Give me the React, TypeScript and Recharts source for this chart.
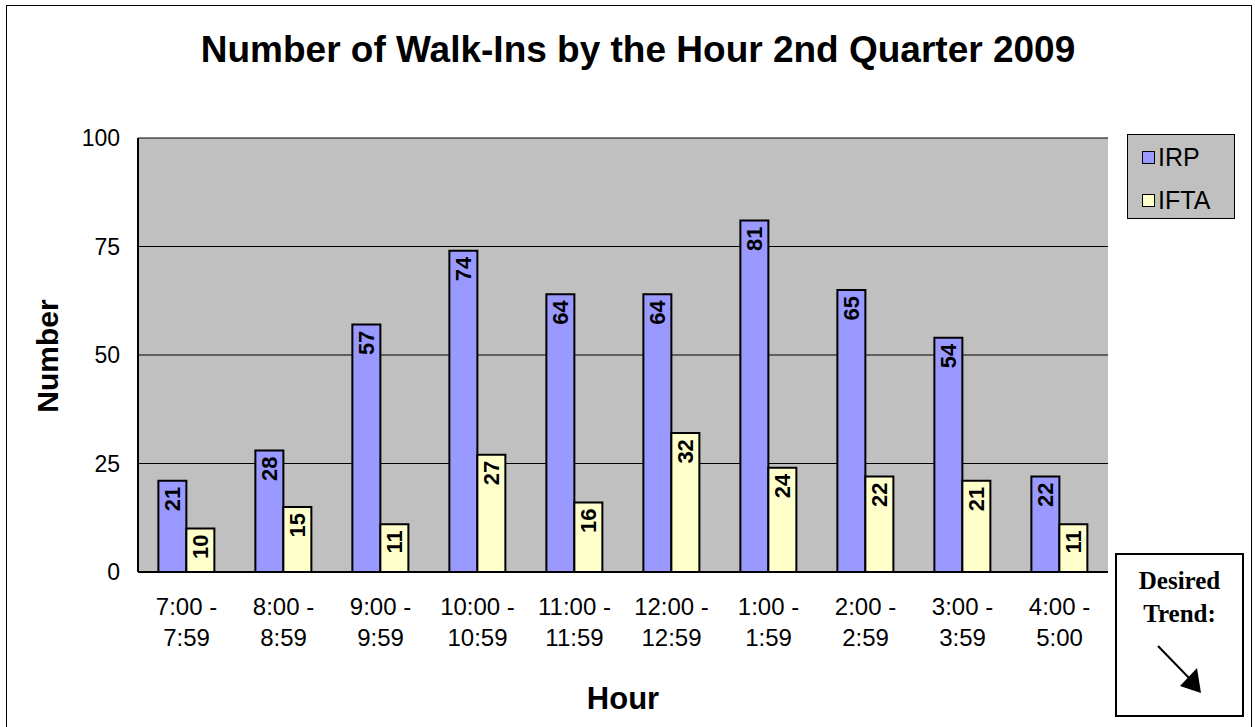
import { BarChart, Bar, XAxis, YAxis, CartesianGrid, LabelList } from 'recharts'

const hours = ['7:00 -|7:59', '8:00 -|8:59', '9:00 -|9:59', '10:00 -|10:59', '11:00 -|11:59', '12:00 -|12:59', '1:00 -|1:59', '2:00 -|2:59', '3:00 -|3:59', '4:00 -|5:00']
const irp = [21, 28, 57, 74, 64, 64, 81, 65, 54, 22]
const ifta = [10, 15, 11, 27, 16, 32, 24, 22, 21, 11]
const yTicks = [0, 25, 50, 75, 100]

const data = hours.map((h, i) => ({ hour: h, IRP: irp[i], IFTA: ifta[i] }))

const font = 'Arial, "Liberation Sans", sans-serif'

function HourTick(props: any) {
  const { x, y, payload } = props
  const lines = String(payload.value).split('|')
  return (
    <text x={x} y={y} textAnchor="middle" fontFamily={font} fontSize={24} fill="#000">
      {lines.map((l, i) => (
        <tspan key={i} x={x} dy={i === 0 ? 35 : 31}>{l}</tspan>
      ))}
    </text>
  )
}

function VLabel(props: any) {
  const { x, y, width, value } = props
  const cx = x + width / 2
  const ty = y + 6
  return (
    <text
      x={cx}
      y={ty}
      transform={`rotate(-90 ${cx} ${ty})`}
      textAnchor="end"
      dominantBaseline="central"
      fontFamily={font}
      fontWeight="bold"
      fontSize={22}
      fill="#000"
    >
      {value}
    </text>
  )
}

const legendItems = [
  { name: 'IRP', color: '#9999FF' },
  { name: 'IFTA', color: '#FFFFCC' },
]

export default function App() {
  return (
    <div style={{ position: 'absolute', left: 0, top: 0, width: 1255, height: 727, background: '#fff', overflow: 'hidden' }}>
      <div style={{ position: 'absolute', left: 6, top: 5, width: 1246, height: 740, border: '1px solid #000', boxSizing: 'border-box' }} />
      <div style={{ position: 'absolute', left: 0, top: 29, width: 1276, textAlign: 'center', fontFamily: font, fontWeight: 'bold', fontSize: 37, whiteSpace: 'nowrap' }}>
        Number of Walk-Ins by the Hour 2nd Quarter 2009
      </div>
      <div style={{ position: 'absolute', left: 48, top: 356, transform: 'translate(-50%, -50%) rotate(-90deg)', fontFamily: font, fontWeight: 'bold', fontSize: 30, whiteSpace: 'nowrap' }}>
        Number
      </div>
      <div style={{ position: 'absolute', left: 0, top: 681, width: 1246, textAlign: 'center', fontFamily: font, fontWeight: 'bold', fontSize: 31 }}>
        Hour
      </div>
      <div style={{ position: 'absolute', left: 0, top: 0 }}>
        <BarChart
          width={1255}
          height={727}
          data={data}
          margin={{ top: 138, right: 147, bottom: 65, left: 78 }}
          barCategoryGap="21%"
          barGap={0}
        >
          <CartesianGrid fill="#C0C0C0" stroke="#000" vertical={false} horizontal={true} />
          <XAxis
            dataKey="hour"
            height={90}
            tick={<HourTick />}
            tickLine={false}
            axisLine={{ stroke: '#000', strokeWidth: 2 }}
            interval={0}
          />
          <XAxis xAxisId="top" orientation="top" dataKey="hour" height={0} tick={false} tickLine={false} axisLine={{ stroke: '#808080', strokeWidth: 3 }} />
          <YAxis
            width={60}
            domain={[0, 100]}
            ticks={yTicks}
            tickLine={false}
            tickMargin={12}
            axisLine={{ stroke: '#000', strokeWidth: 2 }}
            tick={{ fontFamily: font, fontSize: 23, fill: '#000' }}
          />
          <YAxis yAxisId="right" orientation="right" width={0} domain={[0, 100]} tick={false} tickLine={false} axisLine={{ stroke: '#808080', strokeWidth: 2 }} />
          <Bar dataKey="IRP" fill="#9999FF" stroke="#000" strokeWidth={2} isAnimationActive={false}>
            <LabelList dataKey="IRP" content={<VLabel />} />
          </Bar>
          <Bar dataKey="IFTA" fill="#FFFFCC" stroke="#000" strokeWidth={2} isAnimationActive={false}>
            <LabelList dataKey="IFTA" content={<VLabel />} />
          </Bar>
        </BarChart>
      </div>
      <div style={{ position: 'absolute', left: 1127, top: 134, width: 108, height: 85, background: '#C0C0C0', border: '1px solid #000', boxSizing: 'border-box', fontFamily: font, fontSize: 25 }}>
        {legendItems.map((it, i) => (
          <div key={it.name} style={{ position: 'absolute', left: 14, top: 8 + i * 43, height: 28, display: 'flex', alignItems: 'center' }}>
            <span style={{ width: 11, height: 11, background: it.color, border: '1px solid #000', marginRight: 3 }} />
            <span>{it.name}</span>
          </div>
        ))}
      </div>
      <div style={{ position: 'absolute', left: 1115, top: 553, width: 129, height: 164, border: '2px solid #000', boxSizing: 'border-box', background: '#fff', textAlign: 'center', fontFamily: '"Liberation Serif", "Times New Roman", serif', fontWeight: 'bold', fontSize: 25, lineHeight: '33px', paddingTop: 9 }}>
        <div>Desired</div>
        <div>Trend:</div>
        <svg width={125} height={70} style={{ position: 'absolute', left: 0, top: 88 }}>
          <line x1={41} y1={3} x2={73} y2={36} stroke="#000" strokeWidth={2} />
          <polygon points="84,50 63,43 80,25" fill="#000" />
        </svg>
      </div>
    </div>
  )
}
